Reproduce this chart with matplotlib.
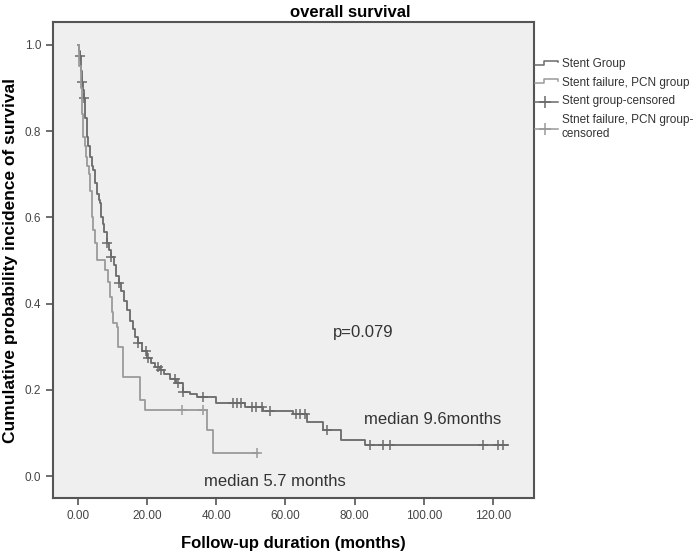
import numpy as np
import matplotlib

matplotlib.use("Agg")
import matplotlib.pyplot as plt
from matplotlib.legend_handler import HandlerBase
from matplotlib.lines import Line2D

plt.rcParams["font.family"] = ["Liberation Sans", "DejaVu Sans"]

# Stent group: event times (months) and survival after each step
stent_t = [0, 0.3, 0.6, 0.9, 1.1, 1.4, 1.7, 2.0, 2.5, 3.0, 3.5, 4.0, 4.4, 5.0, 5.5,
           6.0, 6.4, 6.8, 7.2, 7.6, 8.3, 9.0, 9.7, 10.3, 11.0, 11.9, 12.5, 13.3,
           14.1, 15.0, 15.8, 16.6, 17.4, 18.5, 19.9, 21.0, 22.3, 23.7, 25.0, 26.5,
           28.5, 30.5, 32.5, 34.3, 39.8, 48.3, 53.5, 62.3, 66.1, 70.9, 76.0, 83.0]
stent_s = [1.0, 0.985, 0.974, 0.94, 0.913, 0.895, 0.876, 0.83, 0.787, 0.765, 0.74,
           0.72, 0.71, 0.68, 0.655, 0.64, 0.633, 0.60, 0.585, 0.565, 0.54, 0.525,
           0.509, 0.49, 0.465, 0.447, 0.43, 0.405, 0.385, 0.36, 0.34, 0.322, 0.308,
           0.29, 0.273, 0.262, 0.254, 0.246, 0.236, 0.226, 0.215, 0.196, 0.19, 0.184,
           0.170, 0.161, 0.151, 0.143, 0.126, 0.107, 0.084, 0.072]
stent_end = 124.4
stent_cens = [0.6, 1.1, 1.7, 8.3, 9.7, 11.9, 17.4, 19.6, 20.4, 23.2, 24.0, 28.0,
              29.0, 30.5, 36.2, 44.9, 45.9, 47.3, 50.2, 51.6, 53.1, 55.5, 63.2, 64.2,
              65.6, 72.1, 84.4, 88.3, 90.2, 117.2, 121.6, 123.0]

# Stent failure, PCN group
pcn_t = [0, 0.4, 0.8, 1.2, 1.5, 2.0, 2.3, 2.6, 3.2, 3.6, 4.0, 4.4, 5.0, 5.4, 7.8,
         8.8, 9.3, 9.8, 10.2, 11.2, 11.7, 12.9, 17.9, 19.4, 37.2, 39.1]
pcn_s = [1.0, 0.95, 0.90, 0.84, 0.787, 0.765, 0.74, 0.72, 0.70, 0.66, 0.60, 0.571,
         0.54, 0.50, 0.478, 0.45, 0.416, 0.38, 0.354, 0.346, 0.30, 0.230, 0.176,
         0.153, 0.107, 0.054]
pcn_end = 52.2
pcn_cens = [30.0, 36.2, 51.7]

labels = ["Stent Group", "Stent failure, PCN group", "Stent group-censored",
          "Stnet failure, PCN group-\ncensored"]

c_stent = "#6a6a6a"
c_pcn = "#9a9a9a"


def surv_at(times, surv, t):
    idx = np.searchsorted(times, t, side="right") - 1
    return np.asarray(surv)[idx]


class StepHandler(HandlerBase):
    def __init__(self, color, censored=False):
        super().__init__()
        self.color = color
        self.censored = censored

    def create_artists(self, legend, orig_handle, xdescent, ydescent, width, height,
                       fontsize, trans):
        y0 = height * 0.3
        if self.censored:
            ln = Line2D([0, width], [y0, y0], color=self.color, lw=1.1,
                        transform=trans)
            mk = Line2D([width * 0.45], [y0], marker="+", ms=8, mew=1.1,
                        color=self.color, transform=trans)
            return [ln, mk]
        xs = [0, width * 0.4, width * 0.4, width, width]
        ys = [y0, y0, height * 0.8, height * 0.8, height * 0.6]
        return [Line2D(xs, ys, color=self.color, lw=1.1, transform=trans)]


fig = plt.figure(figsize=(7.0, 5.55), dpi=100)
ax = fig.add_axes([0.0757, 0.1027, 0.6873, 0.8576])
ax.set_facecolor("#efefef")

for t, s, end, cens, col in [(stent_t, stent_s, stent_end, stent_cens, c_stent),
                             (pcn_t, pcn_s, pcn_end, pcn_cens, c_pcn)]:
    tx = list(t) + [end]
    sy = list(s) + [s[-1]]
    ax.step(tx, sy, where="post", color=col, lw=1.3)
    ax.plot(cens, surv_at(t, s, cens), ls="none", marker="+", ms=6.5, mew=1.1,
            color=col)

ax.set_xlim(-7.2, 131.9)
ax.set_ylim(-0.051, 1.053)
ax.set_xticks(np.arange(0, 121, 20))
ax.set_xticklabels([f"{v:.2f}" for v in np.arange(0, 121, 20)])
ax.set_yticks(np.arange(0, 1.01, 0.2))
ax.set_yticklabels([f"{v:.1f}" for v in np.arange(0, 1.01, 0.2)])
ax.tick_params(colors="#555555", labelcolor="#444444", labelsize=8.5, length=5,
               width=1.2)
for sp in ax.spines.values():
    sp.set_color("#555555")
    sp.set_linewidth(1.5)

ax.set_xlabel("Follow-up duration (months)", fontsize=12, fontweight="bold",
              labelpad=10)
ax.set_ylabel("Cumulative probability incidence of survival", fontsize=12.5,
              fontweight="bold", va="center")
ax.yaxis.set_label_coords(-0.089, 0.5)
fig.text(0.5, 0.978, "overall survival", ha="center", va="center", fontsize=12,
         fontweight="bold")

ax.text(82.4, 0.332, "p=0.079", ha="center", va="center", fontsize=12,
        color="#333333")
ax.text(102.7, 0.130, "median 9.6months", ha="center", va="center", fontsize=12,
        color="#333333")
ax.text(57.0, -0.012, "median 5.7 months", ha="center", va="center", fontsize=12,
        color="#333333")

handles = [object(), object(), object(), object()]
hmap = {handles[0]: StepHandler(c_stent), handles[1]: StepHandler(c_pcn),
        handles[2]: StepHandler(c_stent, True), handles[3]: StepHandler(c_pcn, True)}
fig.legend(handles, labels, handler_map=hmap, loc="upper left",
           bbox_to_anchor=(0.764, 0.895), frameon=False, fontsize=8.5,
           handlelength=2.0, handletextpad=0.3, labelspacing=0.55,
           borderaxespad=0, borderpad=0, labelcolor="#333333")

fig.savefig("out.png", dpi=100)
